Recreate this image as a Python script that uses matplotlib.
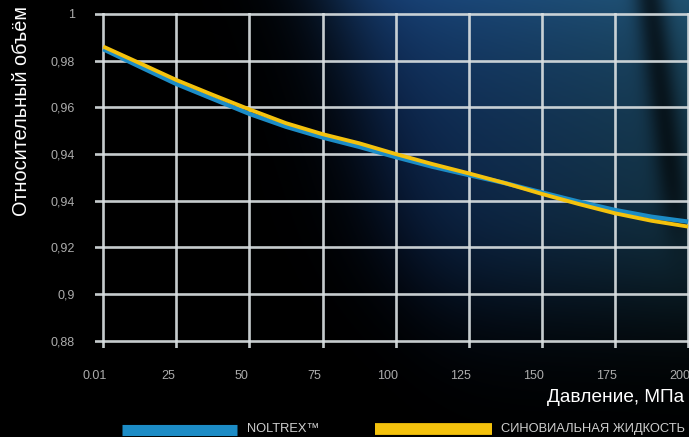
import numpy as np
import matplotlib
matplotlib.use("Agg")
import matplotlib.pyplot as plt
from matplotlib.transforms import ScaledTranslation
from matplotlib.lines import Line2D

# ---- data (y values in the chart's axis scale) ----
pressure = [0.01, 12.5, 25, 37.5, 50, 62.5, 75, 87.5, 100, 112.5, 125,
            137.5, 150, 162.5, 175, 187.5, 200]
noltrex = [1.0049, 0.9974, 0.9900, 0.9836, 0.9772, 0.9717, 0.9671, 0.9631,
           0.9587, 0.9546, 0.9510, 0.9475, 0.9435, 0.9396, 0.9360, 0.9331, 0.9310]
synovial = [1.0060, 0.9989, 0.9917, 0.9853, 0.9791, 0.9732, 0.9685, 0.9646,
            0.9600, 0.9557, 0.9517, 0.9475, 0.9429, 0.9386, 0.9346, 0.9314, 0.9289]
x_ticks = [0.01, 25, 50, 75, 100, 125, 150, 175, 200]
x_tick_labels = ["0.01", "25", "50", "75", "100", "125", "150", "175", "200"]
y_ticks = [0.88, 0.90, 0.92, 0.94, 0.96, 0.98, 1.00, 1.02]
y_tick_labels = ["0,88", "0,9", "0,92", "0,94", "0,94", "0,96", "0,98", "1"]
series_names = ["NOLTREX\u2122", "СИНОВИАЛЬНАЯ ЖИДКОСТЬ"]
x_label = "Давление, МПа"
y_label = "Относительный объём"

BLUE = "#1c8cc6"
YELLOW = "#f4c20d"
W, H = 689, 437

fig = plt.figure(figsize=(W / 100, H / 100), dpi=100)
fig.patch.set_facecolor("black")

# ---- background glow ----
X, Y = np.meshgrid(np.arange(W), np.arange(H))
x0 = 335 + 0.25 * Y
m = 1 / (1 + np.exp(-(X - x0) / 28)) * 1 / (1 + np.exp(-(295 - Y) / 38))
top = np.exp(-Y / 110.0)
rr = (X - 400).clip(0) / 290
r = 10 + 14 * top + 8 * rr
g = 32 + 34 * top + 16 * rr
b = 70 + 50 * top - 8 * rr
band_c = 650 + 0.12 * Y
d = np.exp(-((X - band_c) / 16.0) ** 2) * (1 / (1 + np.exp(-(230 - Y) / 20)))
shade = 1 - 0.65 * d
img = np.stack([r * m * shade, g * m * shade, b * m * shade], axis=-1) / 255.0
bg = fig.add_axes([0, 0, 1, 1], zorder=-10)
bg.imshow(img.clip(0, 1), aspect="auto", interpolation="bilinear")
bg.axis("off")

# ---- main axes ----
ax = fig.add_axes([95 / W, 1 - 348 / H, 594 / W, 335 / H])
ax.patch.set_alpha(0)
ax.set_xlim(-2.83, 200.3)
ax.set_ylim(0.8769, 1.0204)
for s in ax.spines.values():
    s.set_visible(False)
ax.set_xticks(x_ticks, labels=x_tick_labels)
ax.set_yticks(y_ticks, labels=y_tick_labels)
ax.tick_params(length=0, colors="#acacac", labelsize=9)
ax.tick_params(axis="y", pad=14.5)
ax.tick_params(axis="x", pad=16)
for lab in ax.get_xticklabels() + ax.get_yticklabels():
    lab.set_fontfamily(["Liberation Sans", "DejaVu Sans"])
ax.grid(True, color="#d8dee0", lw=1.9, alpha=0.92)
ax.set_axisbelow(True)

ax.plot(pressure, noltrex, color=BLUE, lw=3.2, solid_capstyle="butt",
        solid_joinstyle="round", zorder=3)
ax.plot(pressure, synovial, color=YELLOW, lw=2.8, solid_capstyle="butt",
        solid_joinstyle="round", zorder=4)

off = ScaledTranslation(-8.5 / 100, 0, fig.dpi_scale_trans)
for lab in ax.get_xticklabels():
    lab.set_transform(lab.get_transform() + off)

font = ["Liberation Sans Narrow", "Liberation Sans", "DejaVu Sans"]
renderer = fig.canvas.get_renderer()


def fit(t, target_px, vertical=False):
    bb = t.get_window_extent(renderer=renderer)
    size = bb.height if vertical else bb.width
    t.set_fontsize(t.get_fontsize() * target_px / size)


t1 = fig.text(22 / W, 1 - 111 / H, y_label, rotation=90, ha="center",
              va="center", color="white", fontsize=14, family=font)
fit(t1, 211, vertical=True)
t2 = fig.text(684 / W, 1 - 398 / H, x_label, ha="right", va="center",
              color="white", fontsize=14, family=font)
fit(t2, 138)

# ---- legend ----
fig.add_artist(Line2D([122 / W, 237 / W], [1 - 430 / H] * 2, color=BLUE,
                      lw=8, solid_capstyle="butt", transform=fig.transFigure))
fig.add_artist(Line2D([375 / W, 492 / W], [1 - 429 / H] * 2, color=YELLOW,
                      lw=8.5, solid_capstyle="butt", transform=fig.transFigure))
t4 = fig.text(501 / W, 1 - 429 / H, series_names[1], ha="left", va="center",
              color="#cfcfcf", fontsize=11, family=font)
fit(t4, 185)
t3 = fig.text(247 / W, 1 - 429 / H, series_names[0], ha="left", va="center",
              color="#cfcfcf", fontsize=t4.get_fontsize(), family=font)

fig.savefig("out.png", dpi=100, facecolor="black")
